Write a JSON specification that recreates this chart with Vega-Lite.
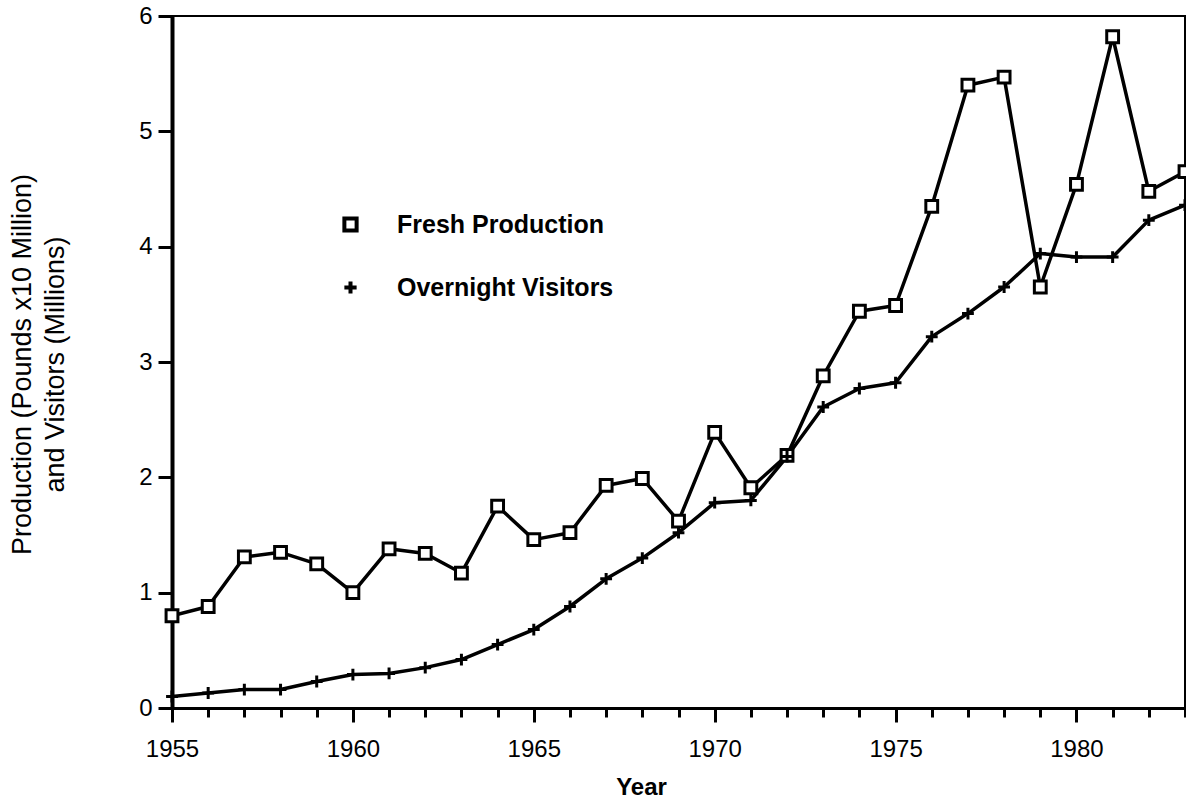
{
  "$schema": "https://vega.github.io/schema/vega-lite/v6.json",
  "width": 1013,
  "height": 692,
  "autosize": {"type": "none"},
  "padding": {"left": 172, "top": 16, "right": 1, "bottom": 91},
  "background": "white",
  "config": {
    "font": "Liberation Sans",
    "view": {"stroke": "black", "strokeWidth": 2},
    "axis": {"grid": false, "domainColor": "black", "tickColor": "black", "labelColor": "black", "titleColor": "black", "labelFont": "Liberation Sans", "titleFont": "Liberation Sans"}
  },
  "data": {
    "values": [
      {"year": 1955, "series": "Fresh Production", "value": 0.80},
      {"year": 1956, "series": "Fresh Production", "value": 0.88},
      {"year": 1957, "series": "Fresh Production", "value": 1.31},
      {"year": 1958, "series": "Fresh Production", "value": 1.35},
      {"year": 1959, "series": "Fresh Production", "value": 1.25},
      {"year": 1960, "series": "Fresh Production", "value": 1.00},
      {"year": 1961, "series": "Fresh Production", "value": 1.38},
      {"year": 1962, "series": "Fresh Production", "value": 1.34},
      {"year": 1963, "series": "Fresh Production", "value": 1.17},
      {"year": 1964, "series": "Fresh Production", "value": 1.75},
      {"year": 1965, "series": "Fresh Production", "value": 1.46},
      {"year": 1966, "series": "Fresh Production", "value": 1.52},
      {"year": 1967, "series": "Fresh Production", "value": 1.93},
      {"year": 1968, "series": "Fresh Production", "value": 1.99},
      {"year": 1969, "series": "Fresh Production", "value": 1.62},
      {"year": 1970, "series": "Fresh Production", "value": 2.39},
      {"year": 1971, "series": "Fresh Production", "value": 1.91},
      {"year": 1972, "series": "Fresh Production", "value": 2.19},
      {"year": 1973, "series": "Fresh Production", "value": 2.88},
      {"year": 1974, "series": "Fresh Production", "value": 3.44},
      {"year": 1975, "series": "Fresh Production", "value": 3.49},
      {"year": 1976, "series": "Fresh Production", "value": 4.35},
      {"year": 1977, "series": "Fresh Production", "value": 5.40},
      {"year": 1978, "series": "Fresh Production", "value": 5.47},
      {"year": 1979, "series": "Fresh Production", "value": 3.65},
      {"year": 1980, "series": "Fresh Production", "value": 4.54},
      {"year": 1981, "series": "Fresh Production", "value": 5.82},
      {"year": 1982, "series": "Fresh Production", "value": 4.48},
      {"year": 1983, "series": "Fresh Production", "value": 4.65},
      {"year": 1955, "series": "Overnight Visitors", "value": 0.10},
      {"year": 1956, "series": "Overnight Visitors", "value": 0.13},
      {"year": 1957, "series": "Overnight Visitors", "value": 0.16},
      {"year": 1958, "series": "Overnight Visitors", "value": 0.16},
      {"year": 1959, "series": "Overnight Visitors", "value": 0.23},
      {"year": 1960, "series": "Overnight Visitors", "value": 0.29},
      {"year": 1961, "series": "Overnight Visitors", "value": 0.30},
      {"year": 1962, "series": "Overnight Visitors", "value": 0.35},
      {"year": 1963, "series": "Overnight Visitors", "value": 0.42},
      {"year": 1964, "series": "Overnight Visitors", "value": 0.55},
      {"year": 1965, "series": "Overnight Visitors", "value": 0.68},
      {"year": 1966, "series": "Overnight Visitors", "value": 0.88},
      {"year": 1967, "series": "Overnight Visitors", "value": 1.12},
      {"year": 1968, "series": "Overnight Visitors", "value": 1.30},
      {"year": 1969, "series": "Overnight Visitors", "value": 1.52},
      {"year": 1970, "series": "Overnight Visitors", "value": 1.78},
      {"year": 1971, "series": "Overnight Visitors", "value": 1.80},
      {"year": 1972, "series": "Overnight Visitors", "value": 2.18},
      {"year": 1973, "series": "Overnight Visitors", "value": 2.61},
      {"year": 1974, "series": "Overnight Visitors", "value": 2.77},
      {"year": 1975, "series": "Overnight Visitors", "value": 2.82},
      {"year": 1976, "series": "Overnight Visitors", "value": 3.22},
      {"year": 1977, "series": "Overnight Visitors", "value": 3.42},
      {"year": 1978, "series": "Overnight Visitors", "value": 3.65},
      {"year": 1979, "series": "Overnight Visitors", "value": 3.94},
      {"year": 1980, "series": "Overnight Visitors", "value": 3.91},
      {"year": 1981, "series": "Overnight Visitors", "value": 3.91},
      {"year": 1982, "series": "Overnight Visitors", "value": 4.23},
      {"year": 1983, "series": "Overnight Visitors", "value": 4.36}
    ]
  },
  "encoding": {
    "x": {
      "field": "year",
      "type": "quantitative",
      "scale": {"domain": [1955, 1983], "nice": false, "zero": false},
      "axis": {
        "title": "Year",
        "values": [1955, 1956, 1957, 1958, 1959, 1960, 1961, 1962, 1963, 1964, 1965, 1966, 1967, 1968, 1969, 1970, 1971, 1972, 1973, 1974, 1975, 1976, 1977, 1978, 1979, 1980, 1981, 1982, 1983],
        "format": "d",
        "labelExpr": "datum.value % 5 === 0 ? datum.label : ''",
        "tickSize": {"condition": {"test": "datum.value % 5 === 0", "value": 14}, "value": 9},
        "tickWidth": 3,
        "domainWidth": 3,
        "labelFontSize": 24,
        "labelBaseline": "top",
        "labelPadding": 15,
        "labelFlush": false,
        "titleFontSize": 24,
        "titleFontWeight": "bold",
        "titleX": 469,
        "titleY": 86,
        "titleBaseline": "alphabetic",
        "titleAlign": "center"
      }
    },
    "y": {
      "field": "value",
      "type": "quantitative",
      "scale": {"domain": [0, 6], "nice": false},
      "axis": {
        "title": ["Production (Pounds x10 Million)", "and Visitors (Millions)"],
        "values": [0, 1, 2, 3, 4, 5, 6],
        "tickSize": 14,
        "tickWidth": 3,
        "domainWidth": 4,
        "labelFontSize": 24,
        "labelPadding": 6,
        "titleFontSize": 27,
        "titleFontWeight": "normal",
        "titleLineHeight": 33,
        "titleAngle": -90,
        "titleX": -142,
        "titleY": 348,
        "titleBaseline": "alphabetic",
        "titleAlign": "center"
      }
    }
  },
  "layer": [
    {
      "mark": {"type": "line", "color": "black", "strokeWidth": 3.5, "strokeJoin": "round", "clip": true},
      "encoding": {"detail": {"field": "series"}}
    },
    {
      "mark": {"type": "point", "filled": false, "color": "black", "fill": "white", "opacity": 1, "strokeWidth": 3, "size": 140},
      "encoding": {
        "shape": {
          "field": "series",
          "type": "nominal",
          "scale": {"domain": ["Fresh Production", "Overnight Visitors"], "range": ["square", "M-1,0H1M0,-1V1"]},
          "legend": {
            "title": null,
            "orient": "none",
            "legendX": 166,
            "legendY": 196,
            "symbolSize": 150,
            "symbolStrokeWidth": 4,
            "labelFontSize": 25,
            "labelFontWeight": "bold",
            "labelColor": "black",
            "labelLimit": 0,
            "labelOffset": 34,
            "rowPadding": 34,
            "labelExpr": "replace(datum.label, ' ', '  ')"
          }
        }
      }
    }
  ]
}
